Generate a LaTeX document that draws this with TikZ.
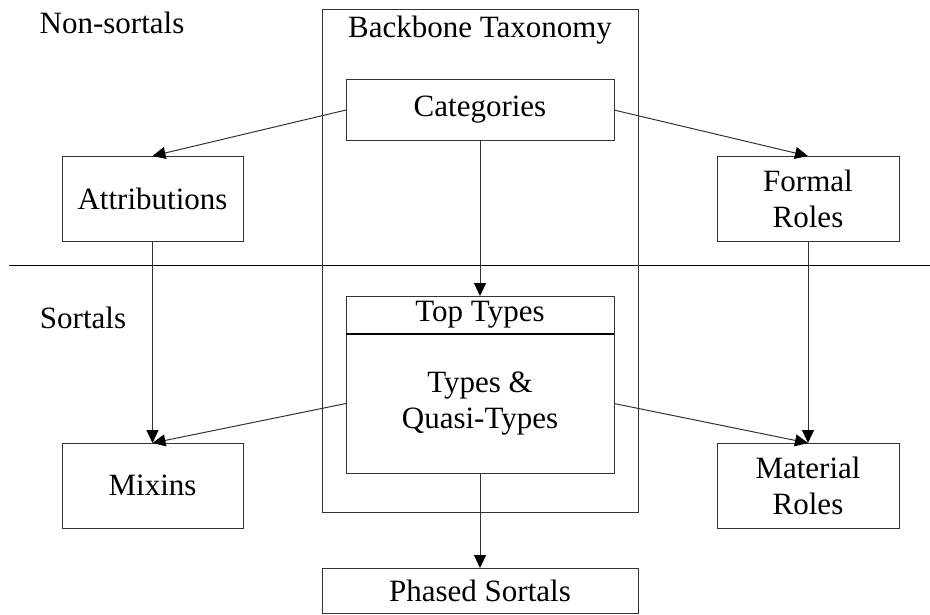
\documentclass[tikz,border=0pt]{standalone}
\usepackage{fontspec}
\setmainfont{Liberation Serif}
\usepackage{tikz}
\usetikzlibrary{arrows.meta, positioning, calc}

\tikzset{
    box/.style={draw=black!80, line width=1pt, inner sep=0pt, outer sep=0pt, align=center},
    link/.style={draw=black!80, line width=1pt, -{Triangle[length=13pt,width=12pt,color=black]}}
}

\begin{document}
\begin{tikzpicture}[x=1pt, y=-1pt, every node/.style={font=\fontsize{31}{36}\selectfont}]
    \useasboundingbox (0,0) rectangle (930,614);

    % --- Area labels ---
    \node (nonsortal) at (112, 23) {Non-sortals};
    \node (sortal) at (83, 318) {Sortals};
    \draw[black, line width=1pt] (9, 265) -- (930, 265);

    % --- Backbone taxonomy frame ---
    \draw[black!80, line width=1pt] (322, 9) rectangle (638, 512);
    \node (backbone) at (480, 30) {Backbone Taxonomy};

    % Boxes inside the frame
    \node[box, minimum width=268, minimum height=61] (cat) at (480, 110) {Categories};
    \node[box, minimum width=268, minimum height=139] (types) at (480, 403.5) {Types \&\\Quasi-Types};
    \node[box, minimum width=268, minimum height=38] (top) at (480, 315) {Top Types};
    \draw[black, line width=1.5pt] (top.south west) -- (top.south east);

    % --- Side boxes ---
    \node[box, minimum width=181, minimum height=85] (attr) at (152.5, 198.5) {Attributions};
    \node[box, minimum width=182, minimum height=85] (formal) at (808, 198.5) {Formal\\Roles};
    \node[box, minimum width=181, minimum height=85] (mixin) at (152.5, 485.5) {Mixins};
    \node[box, minimum width=182, minimum height=85] (material) at (808, 485.5) {Material\\Roles};

    % Phased sortals under the frame
    \node[box, minimum width=316, minimum height=45] (phased) at (480, 590.5) {Phased Sortals};

    % --- Arrows ---
    \draw[link] (cat.west) -- (attr.north);
    \draw[link] (cat.east) -- (formal.north);
    \draw[link] (cat.south) -- (top.north);
    \draw[link] (attr.south) -- (mixin.north);
    \draw[link] (formal.south) -- (material.north);
    \draw[link] (types.west) -- (mixin.north);
    \draw[link] (types.east) -- (material.north);
    \draw[link] (types.south) -- (phased.north);

\end{tikzpicture}
\end{document}
